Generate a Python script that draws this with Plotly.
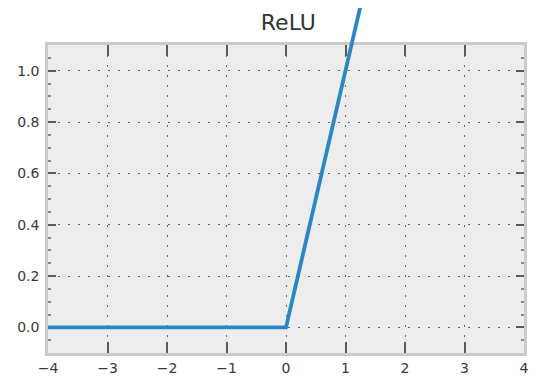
import plotly.graph_objects as go

x_vals = [-4, -3, -2, -1, 0, 1, 2, 3, 4]
relu_vals = [0, 0, 0, 0, 0, 1, 2, 3, 4]
x_ticks = [-4, -3, -2, -1, 0, 1, 2, 3, 4]
x_labels = ["\u22124", "\u22123", "\u22122", "\u22121", "0", "1", "2", "3", "4"]
y_ticks = [0.0, 0.2, 0.4, 0.6, 0.8, 1.0]
y_labels = ["0.0", "0.2", "0.4", "0.6", "0.8", "1.0"]

# the page body adds an 8px offset, so the figure is sized to the remaining window
W, H = 534, 370
M_L, M_R, M_T, M_B = 40, 18, 0, 25
axes_top_px = 37
y_lo, y_hi = -0.1, 1.1
plot_h = H - M_T - M_B
main_frac = (H - M_B - axes_top_px) / plot_h
y2_hi = y_lo + (y_hi - y_lo) / main_frac

fig = go.Figure()
# empty trace so the main axes frame is drawn
fig.add_trace(go.Scatter(x=[None], y=[None], mode="lines", xaxis="x", yaxis="y",
                         hoverinfo="skip", showlegend=False))
fig.add_trace(go.Scatter(
    x=x_vals, y=relu_vals, mode="lines",
    xaxis="x2", yaxis="y2",
    line=dict(color="#2a86c6", width=3.8),
    hoverinfo="skip", showlegend=False,
))

axis_common = dict(
    showline=True, linecolor="#cbcbcb", linewidth=2.5, mirror="ticks",
    ticks="inside", tickcolor="#5a5a5a", tickwidth=1.8,
    showgrid=True, gridcolor="#666666", gridwidth=1.2, griddash="2px,8px",
    zeroline=False, automargin=False,
    tickfont=dict(family="DejaVu Sans", size=14, color="#3a3a3a"),
)

fig.update_layout(
    xaxis=dict(range=[-4, 4], tickvals=x_ticks, ticktext=x_labels, ticklen=11,
               ticklabelstandoff=0,
               anchor="y", domain=[0, 1], **axis_common),
    yaxis=dict(range=[y_lo, y_hi], tickvals=y_ticks, ticktext=y_labels, ticklen=8,
               ticklabelstandoff=3,
               anchor="x", domain=[0, main_frac],
               minor=dict(ticks="inside", ticklen=3, tickcolor="#888888", dtick=0.05, showgrid=False),
               **axis_common),
    xaxis2=dict(range=[-4, 4], domain=[0, 1], anchor="y2", visible=False),
    yaxis2=dict(range=[y_lo, y2_hi], domain=[0, 1], anchor="x2", visible=False),
    width=W, height=H,
    margin=dict(l=M_L, r=M_R, t=M_T, b=M_B),
    paper_bgcolor="white", plot_bgcolor="rgba(0,0,0,0)",
    title=dict(text="ReLU", xref="paper", x=0.505, xanchor="center",
               y=1 - 14 / H, yanchor="middle",
               font=dict(family="DejaVu Sans", size=22, color="#333333")),
    shapes=[dict(type="rect", xref="x domain", yref="y domain", x0=0, x1=1, y0=0, y1=1,
                 fillcolor="#ededed", line=dict(width=0), layer="below")],
)

fig.write_html("out.html")
